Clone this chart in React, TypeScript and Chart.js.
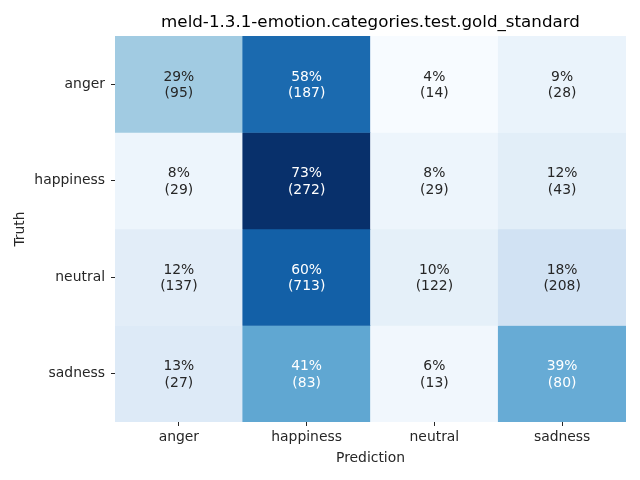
import React, { useEffect, useRef } from "react";
import { Chart, registerables } from "chart.js";

Chart.register(...registerables);

const TITLE = "meld-1.3.1-emotion.categories.test.gold_standard";
const X_TITLE = "Prediction";
const Y_TITLE = "Truth";
const predictionLabels = ["anger", "happiness", "neutral", "sadness"];
const truthLabels = ["anger", "happiness", "neutral", "sadness"];
const angerCounts = [95, 187, 14, 28];
const happinessCounts = [29, 272, 29, 43];
const neutralCounts = [137, 713, 122, 208];
const sadnessCounts = [27, 83, 13, 80];
const countRows = [angerCounts, happinessCounts, neutralCounts, sadnessCounts];

const BLUES: number[][] = [
  [0.9686, 0.9843, 1.0],
  [0.8706, 0.9216, 0.9686],
  [0.7765, 0.8588, 0.9373],
  [0.6196, 0.7922, 0.8824],
  [0.4196, 0.6824, 0.8392],
  [0.2588, 0.5725, 0.7765],
  [0.1294, 0.4431, 0.7098],
  [0.0314, 0.3176, 0.6118],
  [0.0314, 0.1882, 0.4196],
];

function blues(t: number): number[] {
  const c = Math.max(0, Math.min(1, t)) * (BLUES.length - 1);
  const i = Math.min(BLUES.length - 2, Math.floor(c));
  const f = c - i;
  return BLUES[i].map((v, k) => v + (BLUES[i + 1][k] - v) * f);
}

function lum(rgb: number[]): number {
  const l = rgb.map((v) => (v <= 0.03928 ? v / 12.92 : Math.pow((v + 0.055) / 1.055, 2.4)));
  return 0.2126 * l[0] + 0.7152 * l[1] + 0.0722 * l[2];
}

const pctRows = countRows.map((row) => {
  const total = row.reduce((a, b) => a + b, 0);
  return row.map((v) => v / total);
});
const allPct = pctRows.flat();
const vmin = Math.min(...allPct);
const vmax = Math.max(...allPct);
const rgbRows = pctRows.map((row) => row.map((p) => blues((p - vmin) / (vmax - vmin))));
const toCss = (c: number[]) =>
  `rgb(${Math.round(c[0] * 255)},${Math.round(c[1] * 255)},${Math.round(c[2] * 255)})`;

const FONT = "'DejaVu Sans', sans-serif";
const FS = 13.9;

export default function App() {
  const ref = useRef<HTMLCanvasElement | null>(null);
  useEffect(() => {
    if (!ref.current) return;
    const annotPlugin = {
      id: "annot",
      afterDatasetsDraw(chart: any) {
        const ctx = chart.ctx;
        ctx.save();
        ctx.textAlign = "center";
        ctx.textBaseline = "middle";
        ctx.font = `${FS}px ${FONT}`;
        chart.data.datasets.forEach((_ds: any, i: number) => {
          const meta = chart.getDatasetMeta(i);
          meta.data.forEach((el: any, j: number) => {
            const cx = el.x;
            const cy = (el.y + el.base) / 2;
            const rgb = rgbRows[i][j];
            ctx.fillStyle = lum(rgb) > 0.408 ? "#262626" : "#ffffff";
            ctx.fillText(`${Math.round(pctRows[i][j] * 100)}%`, cx, cy - 7);
            ctx.fillText(`(${countRows[i][j]})`, cx, cy + 9.5);
          });
        });
        const area = chart.chartArea;
        ctx.fillStyle = "#000000";
        ctx.font = `16.7px ${FONT}`;
        ctx.textBaseline = "middle";
        ctx.fillText(TITLE, (area.left + area.right) / 2, 23);
        ctx.restore();
      },
    };
    const chart = new Chart(ref.current, {
      type: "bar",
      data: {
        labels: predictionLabels,
        datasets: countRows.map((row, i) => ({
          label: truthLabels[i],
          data: row.map(() => [i, i + 1]) as any,
          backgroundColor: rgbRows[i].map(toCss),
          borderColor: rgbRows[i].map(toCss),
          borderWidth: 0,
          barPercentage: 1,
          categoryPercentage: 1,
          grouped: false,
        })),
      },
      options: {
        animation: false,
        responsive: false,
        layout: { padding: { top: 36, right: 14, left: 0, bottom: 0 } },
        plugins: {
          legend: { display: false },
          tooltip: { enabled: false },
          title: { display: false },
        },
        scales: {
          x: {
            type: "category",
            grid: {
              display: true,
              drawOnChartArea: false,
              drawTicks: true,
              tickLength: 4,
              offset: false,
              color: "#262626",
            },
            border: { display: false },
            ticks: { color: "#262626", font: { family: FONT, size: FS }, padding: 3, maxRotation: 0 },
            title: {
              display: true,
              text: X_TITLE,
              color: "#262626",
              font: { family: FONT, size: FS },
              padding: { top: 2, bottom: 13 },
            },
            afterFit: (s: any) => {
              s.height = 58;
            },
          },
          y: {
            type: "linear",
            min: 0,
            max: 4,
            reverse: true,
            afterBuildTicks: (s: any) => {
              s.ticks = truthLabels.map((_l, i) => ({ value: i + 0.5 }));
            },
            grid: {
              display: true,
              drawOnChartArea: false,
              drawTicks: true,
              tickLength: 4,
              color: "#262626",
            },
            border: { display: false },
            ticks: {
              color: "#262626",
              font: { family: FONT, size: FS },
              padding: 6,
              callback: (_v: any, idx: number) => truthLabels[idx],
            },
            title: {
              display: true,
              text: Y_TITLE,
              color: "#262626",
              font: { family: FONT, size: FS },
              padding: { top: 12, bottom: 0 },
            },
            afterFit: (s: any) => {
              s.width = 115;
            },
          },
        },
      },
      plugins: [annotPlugin],
    });
    return () => chart.destroy();
  }, []);
  return (
    <div style={{ position: "fixed", left: 0, top: 0, width: 640, height: 480, background: "#fff" }}>
      <canvas ref={ref} width={640} height={480} style={{ display: "block" }} />
    </div>
  );
}
